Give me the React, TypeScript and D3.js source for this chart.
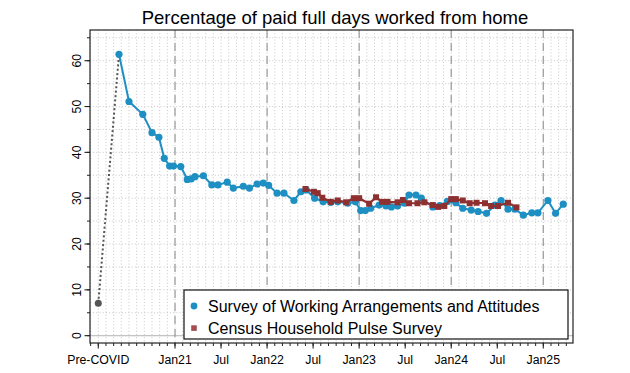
import React from "react";
import * as d3 from "d3";

// ---- data (x in months relative to Jan 2021, pre-COVID placed at -10) ----
const preCovidMonth = -10;
const preCovidValue = 7.1;

const swaaMonths = [
  -7.3, -6.0, -4.2, -3.0, -2.1, -1.4, -0.7, -0.2, 0.75, 1.6, 2.1, 2.6, 3.7, 4.8, 5.6, 6.8, 7.6, 8.9, 9.7, 10.7,
  11.5, 12.2, 13.3, 14.2, 15.5, 16.4, 17.1, 18.2, 19.3, 20.3, 21.2, 22.5, 23.5, 24.2, 24.8, 25.5, 26.6, 27.5,
  28.2, 29.0, 29.9, 30.5, 31.4, 32.1, 33.6, 34.5, 35.5, 36.6, 37.5, 38.6, 39.5, 40.6, 41.7, 42.5, 43.4, 44.3,
  45.4, 46.5, 47.3, 48.6, 49.6, 50.6,
];
const swaaValues = [
  61.4, 51.1, 48.3, 44.3, 43.3, 38.7, 37.0, 37.0, 36.9, 34.1, 34.2, 34.7, 34.9, 32.9, 32.9, 33.5, 32.2, 32.6, 32.2, 33.1,
  33.3, 32.8, 31.1, 31.1, 29.5, 31.4, 31.8, 30.0, 29.2, 29.1, 29.2, 28.9, 29.2, 27.3, 27.3, 27.8, 28.5, 28.3,
  28.1, 28.3, 28.9, 30.7, 30.7, 30.0, 28.1, 28.4, 29.3, 29.0, 27.8, 27.4, 27.1, 26.7, 28.5, 29.5, 27.6, 27.6,
  26.3, 26.8, 26.8, 29.5, 26.7, 28.7,
];

const pulseMonths = [
  17.0, 18.1, 18.6, 19.2, 20.3, 21.2, 22.3, 23.3, 24.0, 25.3, 26.2, 27.0, 27.7, 29.0, 29.7, 30.5, 31.6, 32.5,
  33.6, 34.3, 35.1, 36.0, 36.6, 37.5, 38.4, 39.3, 40.4, 41.2, 42.1, 43.4, 44.5,
];
const pulseValues = [
  32.0, 31.4, 31.1, 30.1, 29.2, 29.5, 29.1, 30.0, 30.0, 28.8, 30.2, 29.2, 29.2, 29.1, 29.6, 28.9, 28.9, 29.1,
  28.5, 28.1, 28.3, 29.8, 29.8, 29.5, 28.9, 29.0, 28.9, 28.3, 28.3, 29.0, 28.0,
];

const xTickMonths = [-10, 0, 6, 12, 18, 24, 30, 36, 42, 48];
const xTickLabels = ["Pre-COVID", "Jan21", "Jul", "Jan22", "Jul", "Jan23", "Jul", "Jan24", "Jul", "Jan25"];
const januaryMonths = [0, 12, 24, 36, 48];
const yTickValues = [0, 10, 20, 30, 40, 50, 60];

const title = "Percentage of paid full days worked from home";
const seriesNames = ["Survey of Working Arrangements and Attitudes", "Census Household Pulse Survey"];

const BLUE = "#1d8fc2";
const RED = "#8e2f30";
const FONT = "'Liberation Sans', Arial, Helvetica, sans-serif";

export default function App() {
  const W = 630, H = 373;
  const left = 90, right = 573, top = 30, bottom = 343;
  const x = d3.scaleLinear().domain([-11.08, 51.87]).range([left, right]);
  const y = d3.scaleLinear().domain([-1.6, 66.7]).range([bottom, top]);

  const line = d3.line<[number, number]>().x((d) => x(d[0])).y((d) => y(d[1]));
  const swaa: [number, number][] = swaaMonths.map((m, i) => [m, swaaValues[i]]);
  const pulse: [number, number][] = pulseMonths.map((m, i) => [m, pulseValues[i]]);

  const minorMonths = d3.range(-11, 52);
  const hGrid = d3.range(0, 66, 5);

  return (
    <svg width={W} height={H} style={{ position: "fixed", left: 0, top: 0, background: "#fff" }} fontFamily={FONT}>
      <rect x={0} y={0} width={W} height={H} fill="#fff" />
      <text x={335} y={24} textAnchor="middle" fontSize={18.5} fill="#000">{title}</text>

      {/* dotted grid */}
      {minorMonths.map((m) => (
        <line key={"vg" + m} x1={x(m)} x2={x(m)} y1={top} y2={bottom} stroke="#c2c2c2" strokeWidth={0.9} strokeDasharray="1,2.2" />
      ))}
      {hGrid.map((v) => (
        <line key={"hg" + v} x1={left} x2={right} y1={y(v)} y2={y(v)} stroke="#c2c2c2" strokeWidth={0.9} strokeDasharray="1,2.2" />
      ))}
      {/* zero line */}
      <line x1={left} x2={right} y1={y(0)} y2={y(0)} stroke="#c4c4c4" strokeWidth={1.2} />
      {/* January dashed lines */}
      {januaryMonths.map((m) => (
        <line key={"jan" + m} x1={x(m)} x2={x(m)} y1={top} y2={bottom} stroke="#a0a0a0" strokeWidth={1.3} strokeDasharray="8,5" />
      ))}

      {/* pre-covid connector */}
      <line x1={x(preCovidMonth)} y1={y(preCovidValue)} x2={x(swaaMonths[0])} y2={y(swaaValues[0])}
        stroke="#555" strokeWidth={2} strokeDasharray="2,2.4" />
      <circle cx={x(preCovidMonth)} cy={y(preCovidValue)} r={3.5} fill="#555" />

      {/* SWAA */}
      <path d={line(swaa) || ""} fill="none" stroke={BLUE} strokeWidth={2} />
      {swaa.map((d, i) => (
        <circle key={"s" + i} cx={x(d[0])} cy={y(d[1])} r={3.6} fill={BLUE} />
      ))}

      {/* Pulse */}
      <path d={line(pulse) || ""} fill="none" stroke={RED} strokeWidth={2.2} />
      {pulse.map((d, i) => (
        <rect key={"p" + i} x={x(d[0]) - 3} y={y(d[1]) - 3} width={6} height={6} fill={RED} />
      ))}

      {/* frame */}
      <rect x={left} y={top} width={right - left} height={bottom - top} fill="none" stroke="#222" strokeWidth={1.2} />

      {/* x axis ticks */}
      {minorMonths.map((m) => (
        <line key={"xt" + m} x1={x(m)} x2={x(m)} y1={bottom} y2={bottom + 3} stroke="#222" strokeWidth={1} />
      ))}
      {xTickMonths.map((m, i) => (
        <g key={"xl" + m}>
          <line x1={x(m)} x2={x(m)} y1={bottom} y2={bottom + 5.5} stroke="#222" strokeWidth={1.1} />
          <text x={x(m)} y={364} textAnchor="middle" fontSize={12.3} fill="#000">{xTickLabels[i]}</text>
        </g>
      ))}

      {/* y axis ticks */}
      {hGrid.map((v) => (
        <line key={"ymt" + v} x1={left - 3} x2={left} y1={y(v)} y2={y(v)} stroke="#222" strokeWidth={1} />
      ))}
      {yTickValues.map((v) => (
        <g key={"yl" + v}>
          <line x1={left - 5.5} x2={left} y1={y(v)} y2={y(v)} stroke="#222" strokeWidth={1.1} />
          <text transform={`translate(80.5,${y(v)}) rotate(-90)`} textAnchor="middle" fontSize={12.3} fill="#000">{v}</text>
        </g>
      ))}

      {/* legend */}
      <rect x={184} y={290} width={384} height={49} fill="#fff" stroke="#111" strokeWidth={1.2} />
      <circle cx={194} cy={306} r={3.4} fill={BLUE} />
      <text x={208} y={311.5} fontSize={16} fill="#000">{seriesNames[0]}</text>
      <rect x={191.2} y={325.3} width={5.6} height={5.6} fill="#a34f52" />
      <text x={208} y={333.5} fontSize={16} fill="#000">{seriesNames[1]}</text>
    </svg>
  );
}
